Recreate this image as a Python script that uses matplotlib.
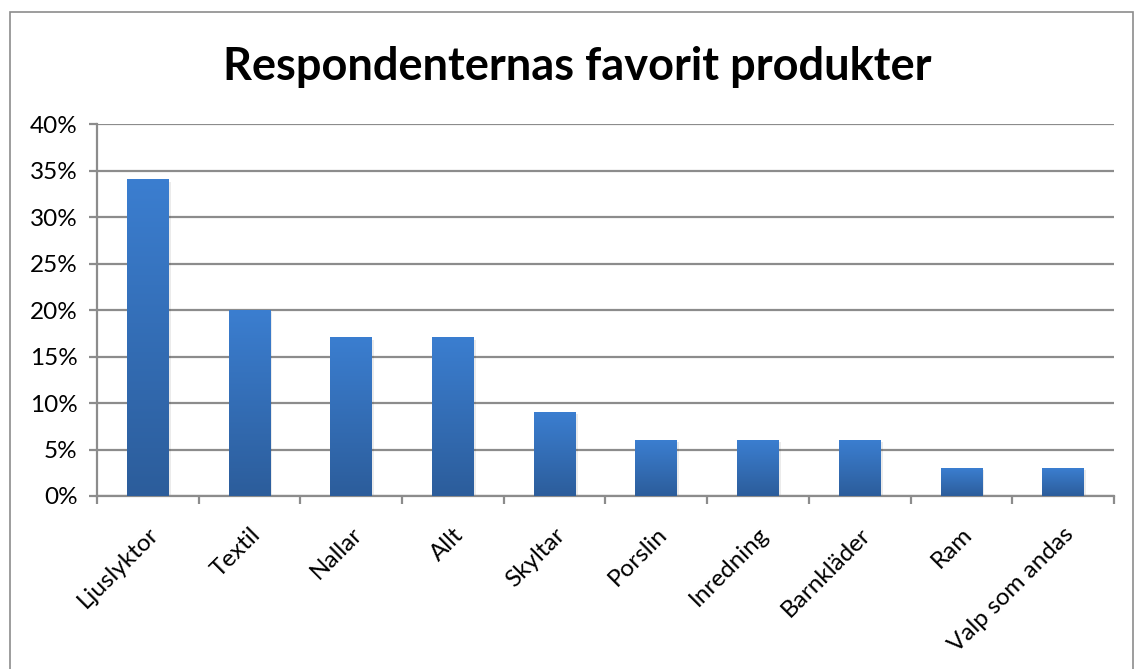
import numpy as np
import matplotlib.pyplot as plt
from matplotlib.colors import LinearSegmentedColormap
from matplotlib.patches import Rectangle

# Data
produkter = ['Ljuslyktor', 'Textil', 'Nallar', 'Allt', 'Skyltar', 'Porslin',
             'Inredning', 'Barnkläder', 'Ram', 'Valp som andas']
andel = [0.34, 0.20, 0.17, 0.17, 0.09, 0.06, 0.06, 0.06, 0.03, 0.03]
yticks = [0, 0.05, 0.10, 0.15, 0.20, 0.25, 0.30, 0.35, 0.40]
ytick_labels = ['0%', '5%', '10%', '15%', '20%', '25%', '30%', '35%', '40%']

plt.rcParams['font.family'] = ['Lato', 'DejaVu Sans']

fig = plt.figure(figsize=(11.36, 6.69), dpi=100)
# ram runt hela diagrammet
fig.patches.append(Rectangle((0.009, -0.05), 0.988, 1.032, transform=fig.transFigure,
                             fill=False, edgecolor='#8c8c8c', linewidth=1.2))

ax = fig.add_axes([0.0854, 0.2586, 0.8952, 0.556])

gradient = LinearSegmentedColormap.from_list('blå', ['#2c5d9b', '#3b7ed0'])
grad = np.linspace(0, 1, 256).reshape(-1, 1)
bredd = 0.41
x = np.arange(len(produkter))
bars = ax.bar(x, andel, width=bredd, color='none', zorder=3)
for b in bars:
    bx, by = b.get_x(), b.get_y()
    bw, bh = b.get_width(), b.get_height()
    # skugga
    ax.add_patch(Rectangle((bx + 0.02, by), bw, bh - 0.002, facecolor='#000000',
                           alpha=0.08, zorder=2, linewidth=0))
    ax.imshow(grad, cmap=gradient, aspect='auto', origin='lower',
              extent=[bx, bx + bw, by, by + bh], zorder=3)

ax.set_xlim(-0.5, len(produkter) - 0.5)
ax.set_ylim(0, 0.40)
ax.set_yticks(yticks)
ax.set_yticklabels(ytick_labels, fontsize=17.5)
ax.yaxis.grid(True, color='#8c8c8c', linewidth=1.6, zorder=0)
ax.set_axisbelow(True)

ax.set_xticks(np.arange(-0.5, len(produkter)), minor=True)
ax.set_xticks(x)
ax.set_xticklabels(produkter, fontsize=17.5, rotation=45, ha='right',
                   rotation_mode='anchor')
ax.tick_params(axis='x', which='major', length=0, pad=20)
ax.tick_params(axis='x', which='minor', length=6, color='#8c8c8c', width=1.6)
ax.tick_params(axis='y', length=6, color='#8c8c8c', width=1.6, pad=8)

for s in ['top', 'right']:
    ax.spines[s].set_visible(False)
for s in ['left', 'bottom']:
    ax.spines[s].set_color('#8c8c8c')
    ax.spines[s].set_linewidth(1.6)

fig.text(0.508, 0.90, 'Respondenternas favorit produkter', fontsize=32.5,
         fontweight='bold', ha='center', va='center')

fig.savefig('out.png', dpi=100)
